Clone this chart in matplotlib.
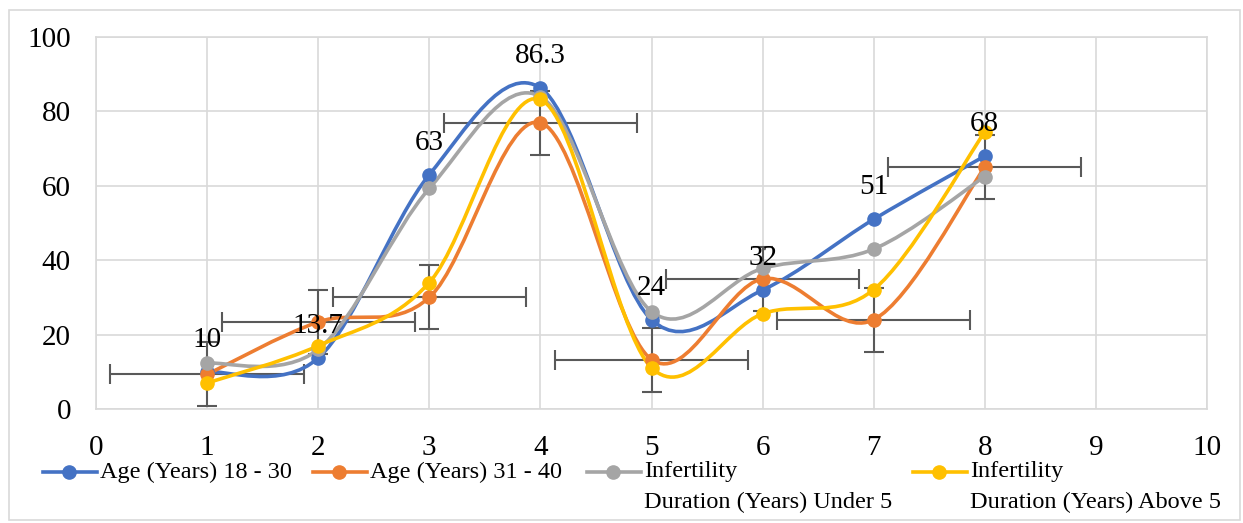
import numpy as np
import matplotlib
matplotlib.use("Agg")
import matplotlib.pyplot as plt
from matplotlib.path import Path
from matplotlib.patches import PathPatch, Rectangle
from matplotlib.lines import Line2D

plt.rcParams['font.family'] = ['Liberation Serif', 'DejaVu Serif']

# data
x_pos = [1, 2, 3, 4, 5, 6, 7, 8]
age_18_30 = [10, 13.7, 63, 86.3, 24, 32, 51, 68]
age_31_40 = [9.3, 23.4, 30, 77, 13.3, 35, 24, 65]
dur_under_5 = [12.3, 16, 59.3, 84, 26.2, 37.8, 43, 62.5]
dur_above_5 = [7, 17, 34, 83.2, 11.1, 25.6, 32.1, 74.5]
x_err = 0.87
y_err = 8.6

series_names = [["Age (Years) 18 - 30"],
                ["Age (Years) 31 - 40"],
                ["Infertility", "Duration (Years) Under 5"],
                ["Infertility", "Duration (Years) Above 5"]]
series_vals = [age_18_30, age_31_40, dur_under_5, dur_above_5]
colors = ['#4472C4', '#ED7D31', '#A5A5A5', '#FFC000']

W, H = 1243, 523


def smooth_path(xs, ys):
    # excel style smoothed line: bezier segments with catmull-rom control points
    pts = np.column_stack([xs, ys]).astype(float)
    verts = [pts[0]]
    codes = [Path.MOVETO]
    for i in range(len(pts) - 1):
        p_prev = pts[i - 1] if i > 0 else pts[i]
        p_next = pts[i + 2] if i + 2 < len(pts) else pts[i + 1]
        c1 = pts[i] + (pts[i + 1] - p_prev) / 6
        c2 = pts[i + 1] - (p_next - pts[i]) / 6
        verts += [c1, c2, pts[i + 1]]
        codes += [Path.CURVE4] * 3
    return Path(verts, codes)


fig = plt.figure(figsize=(W / 100, H / 100), dpi=100)
ax = fig.add_axes([96 / W, 1 - 409 / H, (1207 - 96) / W, (409 - 37) / H])

ax.set_xlim(0, 10)
ax.set_ylim(0, 100)
ax.set_xticks(range(0, 11))
ax.set_yticks(range(0, 101, 20))
ax.grid(True, color='#d9d9d9', lw=1.2)
ax.set_axisbelow(True)
for sp in ax.spines.values():
    sp.set_color('#d9d9d9')
    sp.set_linewidth(1.2)
ax.tick_params(length=0, labelsize=21)
ax.tick_params(axis='y', pad=18)
ax.tick_params(axis='x', pad=19)

# error bars (on the 31 - 40 series)
ax.errorbar(x_pos, age_31_40, xerr=x_err, yerr=y_err, fmt='none',
            ecolor='#595959', elinewidth=1.5, capsize=7, capthick=1.5, zorder=2)

for vals, col in zip(series_vals, colors):
    ax.add_patch(PathPatch(smooth_path(x_pos, vals), fill=False, edgecolor=col,
                           lw=2.6, zorder=3, capstyle='round'))
    ax.plot(x_pos, vals, 'o', color=col, markersize=9.5, zorder=4, clip_on=False)

for x, v in zip(x_pos, age_18_30):
    ax.annotate(f"{v:g}", (x, v), xytext=(0, 23), textcoords='offset points',
                ha='center', va='center', fontsize=21, zorder=6)

# legend drawn by hand so the wrapped labels line up like the original
leg_x = [43, 313, 587, 913]
line_y = [472, 502]
for lx, names, col in zip(leg_x, series_names, colors):
    y0 = 1 - line_y[0] / H
    fig.add_artist(Line2D([lx / W, (lx + 54) / W], [y0, y0], color=col, lw=2.6,
                          transform=fig.transFigure))
    fig.add_artist(Line2D([(lx + 26) / W], [y0], marker='o', color=col,
                          markersize=9.5, transform=fig.transFigure))
    for k, txt in enumerate(names):
        fig.text((lx + 57) / W, 1 - line_y[k] / H, txt, fontsize=17.5,
                 ha='left', va='center')

fig.add_artist(Rectangle((9 / W, 3 / H), 1231 / W, 510 / H, fill=False,
                         edgecolor='#d9d9d9', lw=1.2, transform=fig.transFigure))

fig.savefig("out.png", dpi=100)
